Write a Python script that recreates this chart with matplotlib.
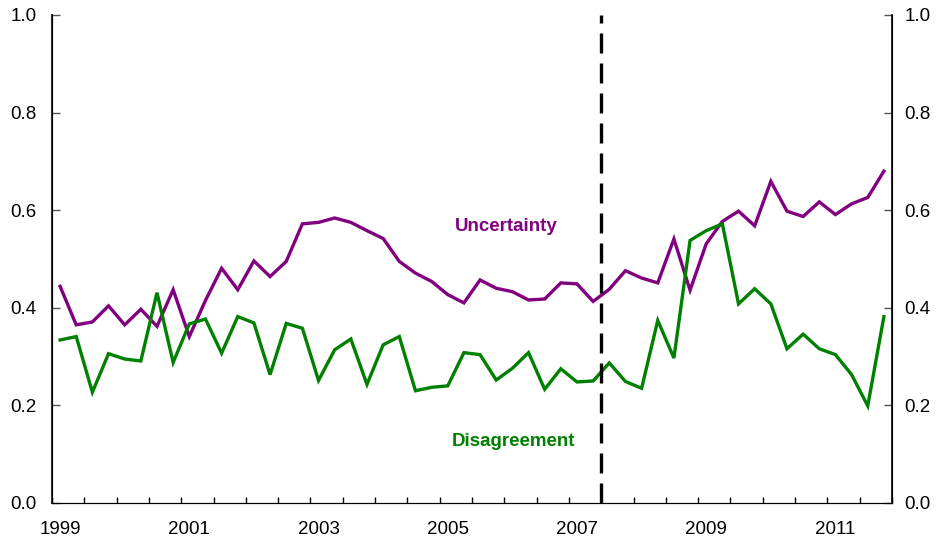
import numpy as np
import matplotlib
matplotlib.use("Agg")
from matplotlib import pyplot as plt

plt.rcParams['font.family'] = ['Liberation Sans', 'DejaVu Sans']

# quarterly, 1999 Q1 .. 2011 Q4
uncertainty = [0.444, 0.365, 0.371, 0.404, 0.365, 0.397, 0.362, 0.437,
               0.341, 0.415, 0.481, 0.437, 0.496, 0.464, 0.495, 0.572,
               0.575, 0.584, 0.575, 0.558, 0.542, 0.495, 0.471, 0.454,
               0.427, 0.410, 0.457, 0.440, 0.433, 0.416, 0.418, 0.451,
               0.449, 0.413, 0.438, 0.476, 0.461, 0.451, 0.541, 0.436,
               0.531, 0.577, 0.598, 0.568, 0.659, 0.598, 0.587, 0.617,
               0.591, 0.613, 0.626, 0.680]
disagreement = [0.334, 0.341, 0.227, 0.306, 0.295, 0.291, 0.431, 0.288,
                0.367, 0.377, 0.307, 0.382, 0.369, 0.263, 0.368, 0.358,
                0.251, 0.314, 0.336, 0.243, 0.324, 0.341, 0.230, 0.237,
                0.240, 0.308, 0.304, 0.252, 0.276, 0.308, 0.233, 0.275,
                0.248, 0.250, 0.287, 0.249, 0.235, 0.374, 0.297, 0.538,
                0.558, 0.572, 0.408, 0.439, 0.408, 0.316, 0.346, 0.316,
                0.304, 0.263, 0.199, 0.382]
year_labels = ['1999', '2001', '2003', '2005', '2007', '2009', '2011']
y_ticks = [0.0, 0.2, 0.4, 0.6, 0.8, 1.0]

n = len(uncertainty)
x = np.arange(n)

fig = plt.figure(figsize=(9.42, 5.45), dpi=100)
ax = fig.add_axes([0.0552, 0.0771, 0.8917, 0.8954])

ax.plot(x, uncertainty, color='#800080', lw=2.4, solid_joinstyle='miter')
ax.plot(x, disagreement, color='#008000', lw=2.4, solid_joinstyle='miter')

# break marker, mid 2007
ax.axvline(33.5, color='black', lw=2.4, dashes=(6, 3))

ax.set_xlim(-0.5, n - 0.5)
ax.set_ylim(0, 1)

ax.set_xticks(np.arange(-0.5, n, 2))
ax.set_xticklabels([])
ax.set_xticks(np.arange(0, n, 8), minor=True)
ax.set_xticklabels(year_labels, minor=True)
ax.tick_params(axis='x', which='major', direction='in', length=4, width=1)
ax.tick_params(axis='x', which='minor', length=0, pad=13, labelsize=13.5)

ax.set_yticks(y_ticks)
ax.set_yticklabels(['%.1f' % t for t in y_ticks])
ax.tick_params(axis='y', direction='in', length=6, width=1, labelsize=13.5,
               pad=11, color='#555555')

ax2 = ax.twinx()
ax2.set_ylim(0, 1)
ax2.set_yticks(y_ticks)
ax2.set_yticklabels(['%.1f' % t for t in y_ticks])
ax2.tick_params(axis='y', direction='in', length=6, width=1, labelsize=13.5,
                pad=9, color='#555555')

for a in (ax, ax2):
    a.spines['top'].set_visible(False)
ax.spines['left'].set_color('#333333')
ax.spines['left'].set_linewidth(1.5)
ax2.spines['right'].set_linewidth(1.2)

ax.text(27.6, 0.566, 'Uncertainty', color='#800080', fontsize=13.5,
        fontweight='bold', ha='center', va='center')
ax.text(28.1, 0.127, 'Disagreement', color='#008000', fontsize=13.5,
        fontweight='bold', ha='center', va='center')

fig.savefig('out.png', dpi=100)
